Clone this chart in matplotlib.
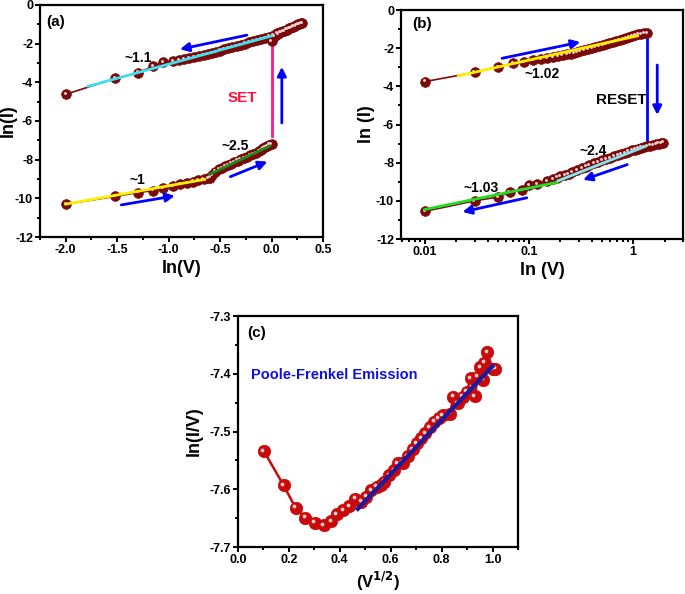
import numpy as np
import matplotlib
matplotlib.use('Agg')
import matplotlib.pyplot as plt
from matplotlib.ticker import MultipleLocator, LogLocator, FixedLocator, FixedFormatter, NullFormatter
import matplotlib.transforms as mtransforms

plt.rcParams['font.family'] = ['Liberation Sans', 'DejaVu Sans']
plt.rcParams['font.weight'] = 'bold'
plt.rcParams['axes.labelweight'] = 'bold'
plt.rcParams['axes.linewidth'] = 1.6
plt.rcParams['axes.unicode_minus'] = False

# ---- panel (a): SET, ln(I) vs ln(V) ----
a_low_lnv = [-2.0, -1.52, -1.30, -1.15, -1.05, -0.96, -0.89, -0.82, -0.76, -0.71, -0.66, -0.62,
             -0.60, -0.58, -0.55, -0.51, -0.48, -0.45, -0.42, -0.39, -0.36, -0.33, -0.30, -0.27,
             -0.24, -0.21, -0.18, -0.15, -0.12, -0.10, -0.08, -0.06, -0.04, -0.02, 0.0]
a_low_lni = [-10.3, -9.9, -9.7, -9.6, -9.45, -9.35, -9.28, -9.2, -9.13, -9.07, -9.02, -8.97,
             -8.93, -8.78, -8.62, -8.5, -8.42, -8.35, -8.27, -8.2, -8.12, -8.05, -7.98, -7.92,
             -7.85, -7.78, -7.72, -7.65, -7.57, -7.5, -7.42, -7.35, -7.28, -7.22, -7.18]
a_up_lnv = [0.0, 0.03, 0.06, 0.09, 0.12, 0.15, 0.18, 0.21, 0.24, 0.27, 0.30,
            0.29, 0.26, 0.23, 0.20, 0.17, 0.14, 0.11, 0.08, 0.05, 0.02, -0.02, -0.06, -0.10,
            -0.14, -0.18, -0.22, -0.26, -0.30, -0.34, -0.38, -0.42, -0.46, -0.50, -0.54, -0.58,
            -0.62, -0.66, -0.70, -0.75, -0.80, -0.85, -0.90, -0.96, -1.05, -1.15, -1.30, -1.52, -2.0]
a_up_lni = [-1.85, -1.62, -1.5, -1.42, -1.35, -1.27, -1.2, -1.12, -1.05, -0.98, -0.92,
            -0.93, -1.0, -1.07, -1.13, -1.2, -1.27, -1.33, -1.4, -1.47, -1.55, -1.63, -1.7, -1.76,
            -1.82, -1.88, -1.94, -2.0, -2.06, -2.12, -2.18, -2.24, -2.3, -2.36, -2.42, -2.48,
            -2.54, -2.6, -2.65, -2.7, -2.75, -2.8, -2.85, -2.9, -2.95, -3.17, -3.5, -3.8, -4.62]
a_fit_hi = ([-1.78, 0.0], [-4.2, -1.6])     # ~1.1
a_fit_lo1 = ([-2.0, -0.65], [-10.3, -9.02])  # ~1
a_fit_lo2 = ([-0.6, -0.02], [-8.75, -7.3])   # ~2.5
a_set = ([0.0, 0.0], [-6.8, -2.15])

# ---- panel (b): RESET ----
b_up_v = [0.01, 0.03, 0.05, 0.07, 0.09, 0.11, 0.13, 0.15, 0.17, 0.19, 0.21, 0.23, 0.25, 0.27,
          0.29, 0.31, 0.34, 0.37, 0.40, 0.43, 0.47, 0.51, 0.55, 0.59, 0.64, 0.69, 0.74, 0.80,
          0.86, 0.92, 0.98, 1.05, 1.12, 1.19, 1.27, 1.35]
b_up_lni = [-3.75, -3.27, -2.97, -2.8, -2.72, -2.64, -2.57, -2.5, -2.45, -2.4, -2.36, -2.32,
            -2.28, -2.24, -2.2, -2.16, -2.1, -2.05, -2.0, -1.95, -1.9, -1.84, -1.79, -1.74,
            -1.68, -1.63, -1.58, -1.53, -1.48, -1.43, -1.38, -1.33, -1.28, -1.24, -1.21, -1.2]
b_low_v = [1.95, 1.85, 1.75, 1.65, 1.55, 1.45, 1.37, 1.28, 1.2, 1.12, 1.04, 0.97, 0.9, 0.83,
           0.77, 0.71, 0.65, 0.6, 0.55, 0.5, 0.46, 0.42, 0.38, 0.35, 0.32, 0.29, 0.26, 0.24,
           0.22, 0.2, 0.185, 0.17, 0.15, 0.12, 0.10, 0.085, 0.065, 0.05, 0.03, 0.01]
b_low_lni = [-6.95, -6.97, -7.0, -7.03, -7.06, -7.1, -7.13, -7.17, -7.21, -7.26, -7.31, -7.36,
             -7.42, -7.48, -7.54, -7.6, -7.67, -7.74, -7.81, -7.88, -7.95, -8.03, -8.12, -8.2,
             -8.3, -8.4, -8.5, -8.58, -8.65, -8.72, -8.78, -8.86, -8.97, -9.1, -9.18, -9.42,
             -9.55, -9.8, -10.0, -10.55]
b_fit_hi = ([0.021, 1.1], [-3.45, -1.35])    # ~1.02
b_fit_lo1 = ([0.01, 0.186], [-10.45, -9.03])  # ~1.03
b_fit_lo2 = ([0.19, 1.3], [-8.95, -7.15])     # ~2.4
b_reset = ([1.37, 1.37], [-1.5, -6.9])

# ---- panel (c): Poole-Frenkel ----
c_sqrtv = [0.102, 0.179, 0.226, 0.265, 0.301, 0.336, 0.366, 0.388, 0.414, 0.438, 0.460, 0.484,
           0.503, 0.523, 0.545, 0.562, 0.575, 0.595, 0.614, 0.627, 0.647, 0.667, 0.686, 0.702,
           0.719, 0.736, 0.754, 0.771, 0.788, 0.804, 0.833, 0.846, 0.863, 0.882, 0.898, 0.915,
           0.931, 0.941, 0.952, 0.963, 0.967, 0.980, 1.000, 1.010]
c_lniv = [-7.534, -7.593, -7.632, -7.649, -7.658, -7.662, -7.655, -7.643, -7.636, -7.629, -7.616,
          -7.622, -7.613, -7.602, -7.596, -7.593, -7.587, -7.576, -7.567, -7.555, -7.554, -7.543,
          -7.531, -7.520, -7.512, -7.503, -7.493, -7.483, -7.477, -7.472, -7.469, -7.440, -7.451,
          -7.440, -7.431, -7.408, -7.439, -7.405, -7.389, -7.410, -7.381, -7.363, -7.392, -7.391]
c_fit = ([0.471, 1.0], [-7.634, -7.387])

brown = '#7a0a0a'
red = '#c80a0a'


def balls(ax, x, y, color, ms, lw=1.2):
    ax.plot(x, y, '-', color=color, lw=lw, zorder=2)
    ax.plot(x, y, 'o', color=color, ms=ms, mec=color, mew=0.5, zorder=3)
    hl = ax.transData + mtransforms.ScaledTranslation(-ms * 0.12 / 72, ms * 0.12 / 72,
                                                      ax.figure.dpi_scale_trans)
    ax.plot(x, y, 'o', color='#f6d0d0', ms=ms * 0.3, mew=0, transform=hl, zorder=4)


def arrow(ax, start, end, color='blue'):
    ax.annotate('', xy=end, xytext=start,
                arrowprops=dict(arrowstyle='-|>', color=color, lw=2.0, mutation_scale=13,
                                shrinkA=0, shrinkB=0))


def style(ax):
    ax.tick_params(which='both', direction='out', top=False, right=False, width=1.4,
                   labelsize=9, pad=1.5)
    ax.tick_params(which='major', length=3.5)
    ax.tick_params(which='minor', length=2.2)
    for lab in ax.get_xticklabels() + ax.get_yticklabels():
        lab.set_fontweight('bold')


fig = plt.figure(figsize=(6.85, 5.94), dpi=100)

# (a)
ax = fig.add_axes([0.0584, 0.601, 0.4131, 0.3906])
ax.plot(*a_set, color='#ff1493', lw=2, zorder=1)
balls(ax, a_low_lnv, a_low_lni, brown, 7)
balls(ax, a_up_lnv, a_up_lni, brown, 7)
ax.plot(*a_fit_hi, color='#40e0f0', lw=2, zorder=5)
ax.plot(*a_fit_lo1, color='#ffee00', lw=2, zorder=5)
ax.plot(*a_fit_lo2, color='#1a8a1a', lw=2, zorder=5)
arrow(ax, (-0.24, -1.56), (-0.89, -2.29))
arrow(ax, (0.1, -6.1), (0.1, -3.2))
arrow(ax, (-0.4, -8.88), (-0.04, -8.1))
arrow(ax, (-1.46, -10.34), (-0.94, -9.87))
ax.text(-2.19, -0.9, '(a)', fontsize=11, fontweight='bold', va='center')
ax.text(-1.3, -2.75, '~1.1', fontsize=10, fontweight='bold', ha='center', va='center')
ax.text(-0.28, -4.83, 'SET', fontsize=11, fontweight='bold', color='#ff1040',
        ha='center', va='center')
ax.text(-0.35, -7.3, '~2.5', fontsize=10, fontweight='bold', ha='center', va='center')
ax.text(-1.3, -9.04, '~1', fontsize=10, fontweight='bold', ha='center', va='center')
ax.set_xlim(-2.25, 0.5)
ax.set_ylim(-12, 0)
ax.xaxis.set_major_locator(MultipleLocator(0.5))
ax.xaxis.set_minor_locator(MultipleLocator(0.25))
ax.yaxis.set_major_locator(MultipleLocator(2))
ax.yaxis.set_minor_locator(MultipleLocator(1))
ax.xaxis.set_major_formatter(plt.FuncFormatter(lambda v, p: f'{v:.1f}'))
ax.set_xlabel('ln(V)', fontsize=13)
ax.set_ylabel('ln(I)', fontsize=13)
ax.xaxis.set_label_coords(0.5, -0.10)
ax.yaxis.set_label_coords(-0.081, 0.5)
style(ax)

# (b)
ax = fig.add_axes([0.5854, 0.5976, 0.4116, 0.3855])
ax.set_xscale('log')
ax.plot(*b_reset, color='blue', lw=2, zorder=1)
balls(ax, b_up_v, b_up_lni, brown, 7)
balls(ax, b_low_v, b_low_lni, brown, 7)
ax.plot(*b_fit_hi, color='#ffee00', lw=2, zorder=5)
ax.plot(*b_fit_lo1, color='#22dd22', lw=2, zorder=5)
ax.plot(*b_fit_lo2, color='#80e8f0', lw=2, zorder=5)
arrow(ax, (0.055, -2.53), (0.31, -1.68))
arrow(ax, (1.7, -2.88), (1.7, -5.5))
arrow(ax, (0.875, -8.1), (0.33, -8.9))
arrow(ax, (0.095, -9.84), (0.023, -10.58))
ax.text(0.0075, -0.75, '(b)', fontsize=11, fontweight='bold', va='center')
ax.text(0.133, -3.37, '~1.02', fontsize=10, fontweight='bold', ha='center', va='center')
ax.text(0.76, -4.72, 'RESET', fontsize=11, fontweight='bold', ha='center', va='center')
ax.text(0.41, -7.37, '~2.4', fontsize=10, fontweight='bold', ha='center', va='center')
ax.text(0.035, -9.3, '~1.03', fontsize=10, fontweight='bold', ha='center', va='center')
ax.set_xlim(0.0059, 3.0)
ax.set_ylim(-12, 0)
ax.xaxis.set_major_locator(FixedLocator([0.01, 0.1, 1]))
ax.xaxis.set_major_formatter(FixedFormatter(['0.01', '0.1', '1']))
ax.xaxis.set_minor_locator(LogLocator(base=10, subs=np.arange(2, 10)))
ax.xaxis.set_minor_formatter(NullFormatter())
ax.yaxis.set_major_locator(MultipleLocator(2))
ax.yaxis.set_minor_locator(MultipleLocator(1))
ax.set_xlabel('ln (V)', fontsize=13)
ax.set_ylabel('ln (I)', fontsize=13)
ax.xaxis.set_label_coords(0.5, -0.10)
ax.yaxis.set_label_coords(-0.092, 0.5)
style(ax)

# (c)
ax = fig.add_axes([0.3474, 0.0791, 0.4088, 0.3889])
balls(ax, c_sqrtv, c_lniv, red, 9, lw=1.8)
ax.plot(*c_fit, color='#1a1aa0', lw=3, zorder=5)
ax.text(0.035, -7.33, '(c)', fontsize=11, fontweight='bold', va='center')
ax.text(0.052, -7.402, 'Poole-Frenkel Emission', fontsize=10.5, fontweight='bold',
        color='#1010e0', va='center')
ax.set_xlim(0.0, 1.1)
ax.set_ylim(-7.7, -7.3)
ax.xaxis.set_major_locator(MultipleLocator(0.2))
ax.xaxis.set_minor_locator(MultipleLocator(0.1))
ax.yaxis.set_major_locator(MultipleLocator(0.1))
ax.yaxis.set_minor_locator(MultipleLocator(0.05))
ax.xaxis.set_major_formatter(plt.FuncFormatter(lambda v, p: f'{v:.1f}'))
ax.set_xlabel(r'(V$^{\mathbf{1/2}}$)', fontsize=12)
ax.set_ylabel('ln(I/V)', fontsize=13)
ax.xaxis.set_label_coords(0.5, -0.10)
ax.yaxis.set_label_coords(-0.125, 0.5)
style(ax)

fig.savefig('out.png', dpi=100)
